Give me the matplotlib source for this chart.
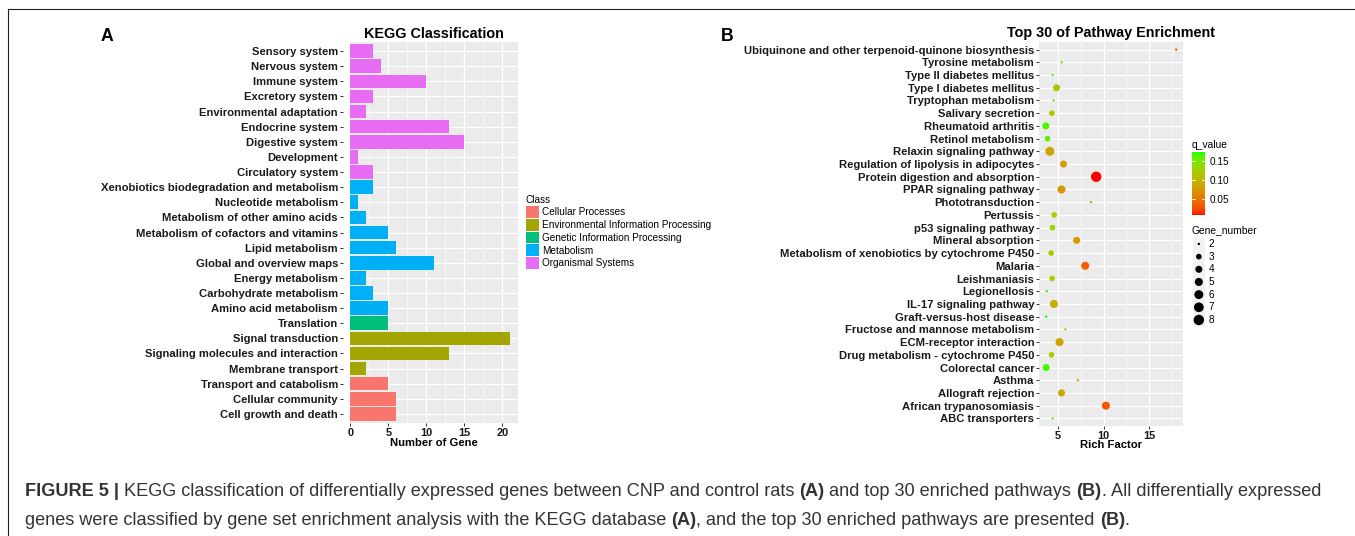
import numpy as np
import matplotlib
matplotlib.use('Agg')
import matplotlib.pyplot as plt
from matplotlib.colors import ListedColormap, Normalize, to_rgb
from matplotlib.cm import ScalarMappable
from matplotlib.patches import Patch, Rectangle
from matplotlib.lines import Line2D

W, H = 1355, 536
plt.rcParams['font.family'] = ['Liberation Sans', 'DejaVu Sans']

# ---- panel A: KEGG classification (top to bottom)
kegg_terms = [
    'Sensory system', 'Nervous system', 'Immune system', 'Excretory system',
    'Environmental adaptation', 'Endocrine system', 'Digestive system',
    'Development', 'Circulatory system',
    'Xenobiotics biodegradation and metabolism', 'Nucleotide metabolism',
    'Metabolism of other amino acids', 'Metabolism of cofactors and vitamins',
    'Lipid metabolism', 'Global and overview maps', 'Energy metabolism',
    'Carbohydrate metabolism', 'Amino acid metabolism', 'Translation',
    'Signal transduction', 'Signaling molecules and interaction',
    'Membrane transport', 'Transport and catabolism', 'Cellular community',
    'Cell growth and death',
]
kegg_counts = [3, 4, 10, 3, 2, 13, 15, 1, 3,
               3, 1, 2, 5, 6, 11, 2, 3, 5,
               5, 21, 13, 2, 5, 6, 6]
kegg_class = (['Organismal Systems'] * 9 + ['Metabolism'] * 9 +
              ['Genetic Information Processing'] +
              ['Environmental Information Processing'] * 3 +
              ['Cellular Processes'] * 3)
class_names = ['Cellular Processes', 'Environmental Information Processing',
               'Genetic Information Processing', 'Metabolism',
               'Organismal Systems']
class_colors = ['#F8766D', '#A3A500', '#00BF7D', '#00B0F6', '#E76BF3']

# ---- panel B: top 30 pathway enrichment (top to bottom)
path_terms = [
    'Ubiquinone and other terpenoid-quinone biosynthesis', 'Tyrosine metabolism',
    'Type II diabetes mellitus', 'Type I diabetes mellitus',
    'Tryptophan metabolism', 'Salivary secretion', 'Rheumatoid arthritis',
    'Retinol metabolism', 'Relaxin signaling pathway',
    'Regulation of lipolysis in adipocytes', 'Protein digestion and absorption',
    'PPAR signaling pathway', 'Phototransduction', 'Pertussis',
    'p53 signaling pathway', 'Mineral absorption',
    'Metabolism of xenobiotics by cytochrome P450', 'Malaria', 'Leishmaniasis',
    'Legionellosis', 'IL-17 signaling pathway', 'Graft-versus-host disease',
    'Fructose and mannose metabolism', 'ECM-receptor interaction',
    'Drug metabolism - cytochrome P450', 'Colorectal cancer', 'Asthma',
    'Allograft rejection', 'African trypanosomiasis', 'ABC transporters',
]
rich_factor = [18.0, 5.37, 4.38, 4.82, 4.49, 4.31, 3.64, 3.83, 4.08, 5.59,
               9.19, 5.37, 8.60, 4.56, 4.38, 7.03, 4.23, 7.98, 4.34, 3.75,
               4.53, 3.68, 5.81, 5.15, 4.27, 3.68, 7.17, 5.37, 10.26, 4.38]
q_value = [0.030, 0.140, 0.155, 0.110, 0.155, 0.115, 0.165, 0.160, 0.085, 0.080,
           0.009, 0.075, 0.085, 0.130, 0.125, 0.075, 0.120, 0.035, 0.125, 0.170,
           0.095, 0.173, 0.140, 0.085, 0.120, 0.165, 0.090, 0.090, 0.030, 0.140]
gene_number = [2, 2, 2, 4, 2, 3, 4, 3, 6, 4,
               8, 5, 2, 3, 3, 4, 3, 5, 3, 2,
               5, 2, 2, 5, 3, 4, 2, 4, 5, 2]
size_breaks = [2, 3, 4, 5, 6, 7, 8]
q_ticks = [0.05, 0.10, 0.15]


# ggplot-like red->green gradient interpolated in CIELAB
_M = np.array([[0.4124, 0.3576, 0.1805],
               [0.2126, 0.7152, 0.0722],
               [0.0193, 0.1192, 0.9505]])
_WP = np.array([0.95047, 1.0, 1.08883])


def to_lab(c):
    rgb = np.array(to_rgb(c))
    lin = np.where(rgb <= 0.04045, rgb / 12.92, ((rgb + 0.055) / 1.055) ** 2.4)
    xyz = _M @ lin / _WP
    f = np.where(xyz > 0.008856, np.cbrt(xyz), 7.787 * xyz + 16 / 116)
    return np.array([116 * f[1] - 16, 500 * (f[0] - f[1]), 200 * (f[1] - f[2])])


def from_lab(lab):
    fy = (lab[0] + 16) / 116
    f = np.array([fy + lab[1] / 500, fy, fy - lab[2] / 200])
    xyz = np.where(f ** 3 > 0.008856, f ** 3, (f - 16 / 116) / 7.787) * _WP
    lin = np.linalg.solve(_M, xyz)
    lin = np.clip(lin, 0, None)
    rgb = np.where(lin <= 0.0031308, 12.92 * lin, 1.055 * lin ** (1 / 2.4) - 0.055)
    return np.clip(rgb, 0, 1)


lo, hi = to_lab('#FF0000'), to_lab('#00FF00')
cmap = ListedColormap([from_lab(lo + t * (hi - lo)) for t in np.linspace(0, 1, 256)])
norm = Normalize(min(q_value), max(q_value))


def gg_size(g):
    # scale_size area palette, range 1..6, then mm -> px at this scale
    size = 1 + 5 * np.sqrt((np.asarray(g, float) - 2) / 6)
    d_px = 1.6 * size + 0.8
    return (d_px * 0.72) ** 2


def fx(x):
    return x / W


def fy(y):
    return 1 - y / H


def style_panel(ax):
    ax.set_facecolor('#EBEBEB')
    for s in ax.spines.values():
        s.set_visible(False)
    ax.set_axisbelow(True)
    ax.grid(which='major', color='white', lw=0.9)
    ax.grid(which='minor', axis='x', color='white', lw=0.45)
    ax.tick_params(which='minor', length=0)
    ax.tick_params(which='major', length=2.2, width=0.7, color='#333333',
                   labelcolor='#1a1a1a', pad=1.5)


fig = plt.figure(figsize=(W / 100, H / 100), dpi=100)

# ---------------- panel A
axA = fig.add_axes([fx(350), fy(423), fx(168), 381 / H])
axA.spines['left'].set_position(('outward', 5))
style_panel(axA)
n = len(kegg_terms)
ypos = np.arange(n)[::-1]
bar_colors = [class_colors[class_names.index(c)] for c in kegg_class]
axA.barh(ypos, kegg_counts, height=0.9, color=bar_colors, zorder=3)
axA.set_ylim(-0.6, n - 1 + 0.6)
axA.set_xlim(-0.05, max(kegg_counts) * 1.05)
axA.set_xticks([0, 5, 10, 15, 20])
axA.set_xticklabels(['0', '5', '10', '15', '20'], fontsize=7.9, fontweight='bold')
axA.set_xticks([2.5, 7.5, 12.5, 17.5], minor=True)
axA.set_yticks(ypos)
axA.set_yticklabels(kegg_terms, fontsize=8.15, fontweight='bold')

fig.text(fx(434), fy(37.5), 'KEGG Classification', ha='center', va='baseline',
         fontsize=10.4, fontweight='bold')
fig.text(fx(434), fy(446), 'Number of Gene', ha='center', va='baseline',
         fontsize=8.15, fontweight='bold')
fig.text(fx(101), fy(40.7), 'A', ha='left', va='baseline',
         fontsize=12.7, fontweight='bold')

handles = [Patch(facecolor=c, edgecolor='none') for c in class_colors]
leg = fig.legend(handles, class_names, title='Class', loc='upper left',
                 bbox_to_anchor=(fx(526), fy(195)), frameon=False,
                 fontsize=7.2, title_fontsize=7.2, handlelength=1.3,
                 handleheight=1.4, labelspacing=0.12, handletextpad=0.3,
                 borderpad=0, borderaxespad=0, alignment='left')

# ---------------- panel B
axB = fig.add_axes([fx(1039.3), fy(426), fx(143.4), 384 / H])
style_panel(axB)
m = len(path_terms)
ypB = np.arange(m)[::-1]
axB.scatter(rich_factor, ypB, s=gg_size(gene_number), c=q_value, cmap=cmap,
            norm=norm, linewidths=0, zorder=3)
rng = max(rich_factor) - min(rich_factor)
axB.set_xlim(min(rich_factor) - 0.05 * rng, max(rich_factor) + 0.05 * rng)
axB.set_ylim(-0.6, m - 1 + 0.6)
axB.set_xticks([5, 10, 15])
axB.set_xticklabels(['5', '10', '15'], fontsize=7.9, fontweight='bold')
axB.set_xticks([7.5, 12.5, 17.5], minor=True)
axB.set_yticks(ypB)
axB.set_yticklabels(path_terms, fontsize=8.15, fontweight='bold')

fig.text(fx(1111), fy(37.5), 'Top 30 of Pathway Enrichment', ha='center',
         va='baseline', fontsize=10.4, fontweight='bold')
fig.text(fx(1111), fy(448), 'Rich Factor', ha='center', va='baseline',
         fontsize=8.15, fontweight='bold')
fig.text(fx(721), fy(40.7), 'B', ha='left', va='baseline',
         fontsize=12.7, fontweight='bold')

# colour bar
cax = fig.add_axes([fx(1192), fy(215), fx(13), 63.3 / H])
cb = fig.colorbar(ScalarMappable(norm=norm, cmap=cmap), cax=cax)
cb.outline.set_visible(False)
cb.set_ticks(q_ticks)
cb.set_ticklabels(['%.2f' % v for v in q_ticks])
cax.tick_params(length=0, labelsize=7.2, pad=3)
for v in q_ticks:
    cax.axhline(v, 0, 0.2, color='white', lw=0.6)
    cax.axhline(v, 0.8, 1, color='white', lw=0.6)
fig.text(fx(1192), fy(147.5), 'q_value', ha='left', va='baseline', fontsize=7.4)

# size legend
fig.text(fx(1192), fy(233.5), 'Gene_number', ha='left', va='baseline', fontsize=7.4)
sax = fig.add_axes([fx(1192.5), fy(326.3), fx(12.7), 88.7 / H])
sax.set_xlim(0, 1)
sax.set_ylim(max(size_breaks) + 0.5, min(size_breaks) - 0.5)
sax.axis('off')
for b in size_breaks:
    sax.add_patch(Rectangle((0, b - 0.5), 1, 1, facecolor='#F2F2F2',
                            edgecolor='none'))
    sax.text(1.25, b, str(b), va='center', ha='left', fontsize=7.2,
             clip_on=False)
sax.scatter([0.5] * len(size_breaks), size_breaks, s=gg_size(size_breaks),
            color='black', linewidths=0, zorder=3)

# ---------------- frame lines and caption
fig.add_artist(Line2D([fx(8), 1], [fy(9), fy(9)], transform=fig.transFigure,
                      color='#231F20', lw=0.8))
fig.add_artist(Line2D([fx(8), fx(8)], [0, fy(9)], transform=fig.transFigure,
                      color='#231F20', lw=0.8))

cap_lines = [
    [('FIGURE 5 | ', 'bold'),
     ('KEGG classification of differentially expressed genes between CNP and control rats ', 'normal'),
     ('(A)', 'bold'), (' and top 30 enriched pathways ', 'normal'), ('(B)', 'bold'),
     ('. All differentially expressed', 'normal')],
    [('genes were classified by gene set enrichment analysis with the KEGG database ', 'normal'),
     ('(A)', 'bold'), (', and the top 30 enriched pathways are presented ', 'normal'),
     ('(B)', 'bold'), ('.', 'normal')],
]
cap_base = [496, 525]
renderer = fig.canvas.get_renderer()
for segs, yb in zip(cap_lines, cap_base):
    x = 25
    for txt, wt in segs:
        t = fig.text(fx(x), fy(yb), txt, ha='left', va='baseline', fontsize=13.05,
                     fontweight=wt, color='#333333')
        x += t.get_window_extent(renderer).width

fig.savefig('out.png', dpi=100)
